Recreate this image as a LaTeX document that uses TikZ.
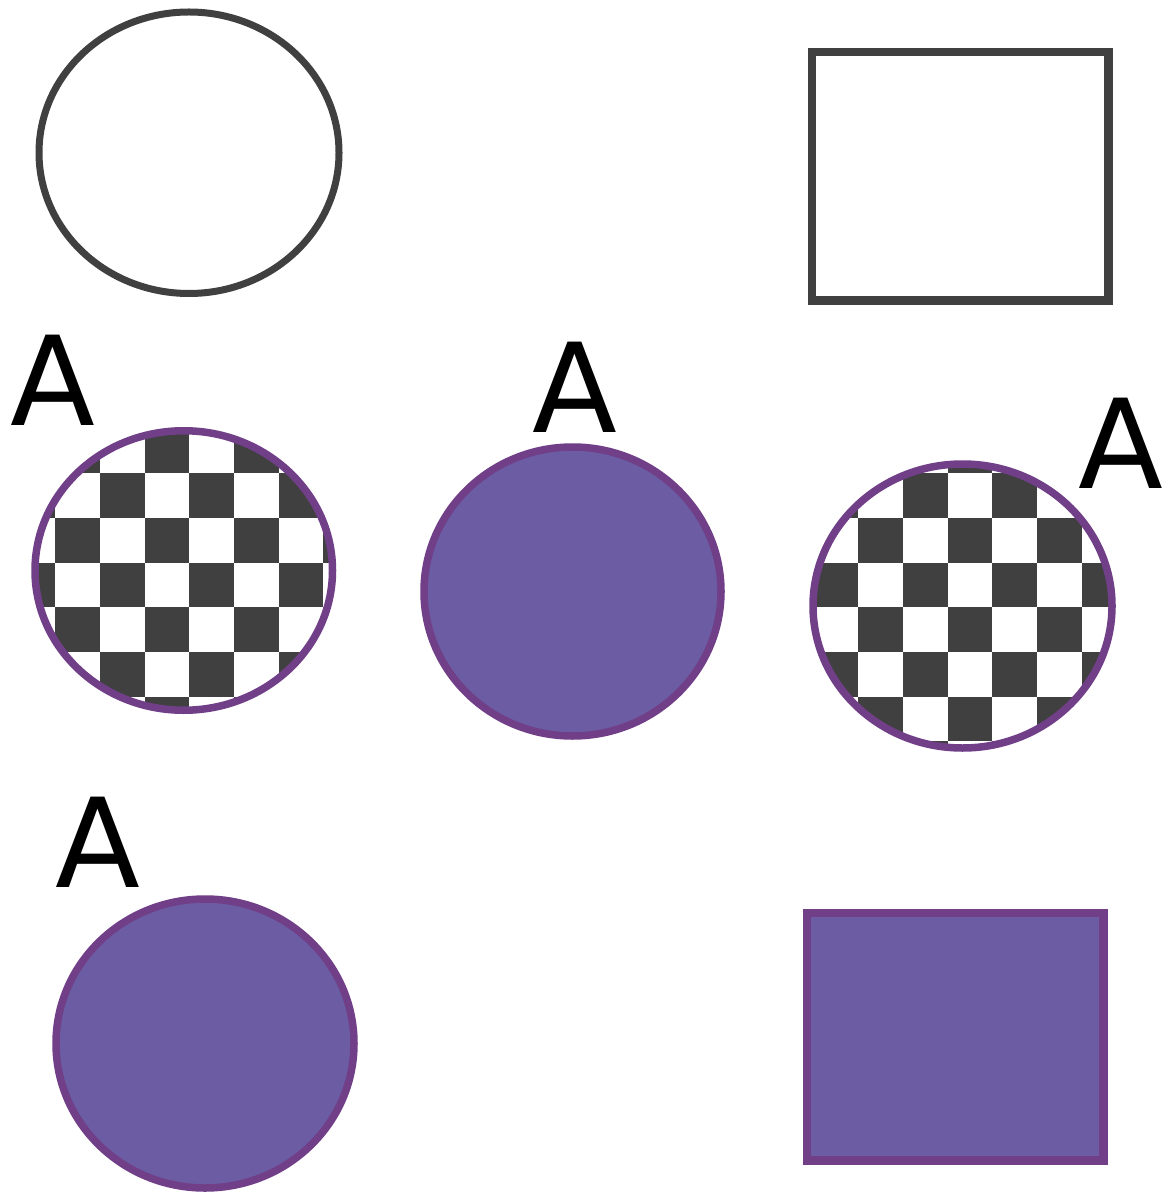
\documentclass[tikz,border=0pt]{standalone}
\usepackage{fontspec}
\setmainfont{DejaVu Sans}
\usetikzlibrary{shapes.geometric}
\definecolor{dgray}{HTML}{404040}
\definecolor{pstroke}{HTML}{703F88}
\definecolor{pfill}{HTML}{6C5CA3}
% checker squares, origin given relative to the node centre
\newcommand{\checkerfill}[2]{%
  \foreach \i in {-1,...,7}{%
    \foreach \j in {-1,...,7}{%
      \pgfmathtruncatemacro\cpar{mod(\i+\j+4,2)}%
      \ifnum\cpar=1
        \fill[dgray] ({#1+\i*44.7},{#2+\j*44.7}) rectangle ++(44.7,44.7);
      \fi
    }%
  }%
}
\begin{document}
\begin{tikzpicture}[x=0.5pt,y=-0.5pt,
  lbl/.style={font=\fontsize{62}{62}\selectfont, anchor=base, inner sep=0pt},
  oval/.style={ellipse, inner sep=0pt},
  plainoval/.style={oval, line width=3.5pt, draw=dgray, fill=white},
  filloval/.style={oval, line width=3.75pt, draw=pstroke, fill=pfill},
  checkoval/.style={oval, line width=3.75pt, draw=pstroke, fill=white},
  plainbox/.style={rectangle, inner sep=0pt, line width=4.4pt, draw=dgray, fill=white},
  fillbox/.style={rectangle, inner sep=0pt, line width=4.25pt, draw=pstroke, fill=pfill}]
\useasboundingbox[fill=white] (0,0) rectangle (1164,1197);

% top row
\node[plainoval, minimum width=150pt, minimum height=140.75pt] (c1) at (189,152.75) {};
\node[plainbox, minimum width=148.25pt, minimum height=124.25pt] (r1) at (960.25,176.25) {};

% middle row
\node[checkoval, minimum width=148.75pt, minimum height=139.75pt,
  path picture={\checkerfill{-173.25}{-142}}] (c2) at (183.75,570.5) {};
\node[filloval, minimum width=148.5pt, minimum height=144.5pt] (c3) at (572.5,591.5) {};
\node[checkoval, minimum width=149.5pt, minimum height=142pt,
  path picture={\checkerfill{-149.1}{-177.6}}] (c4) at (962.5,606) {};

% bottom row
\node[filloval, minimum width=149pt, minimum height=144.5pt] (c5) at (205,1043.5) {};
\node[fillbox, minimum width=148.35pt, minimum height=123.75pt] (r2) at (955.35,1036.75) {};

% labels
\node[lbl] (a1) at (52.5,425) {A};
\node[lbl] (a2) at (574.5,432) {A};
\node[lbl] (a3) at (1121,488) {A};
\node[lbl] (a4) at (97.5,887) {A};
\end{tikzpicture}
\end{document}
